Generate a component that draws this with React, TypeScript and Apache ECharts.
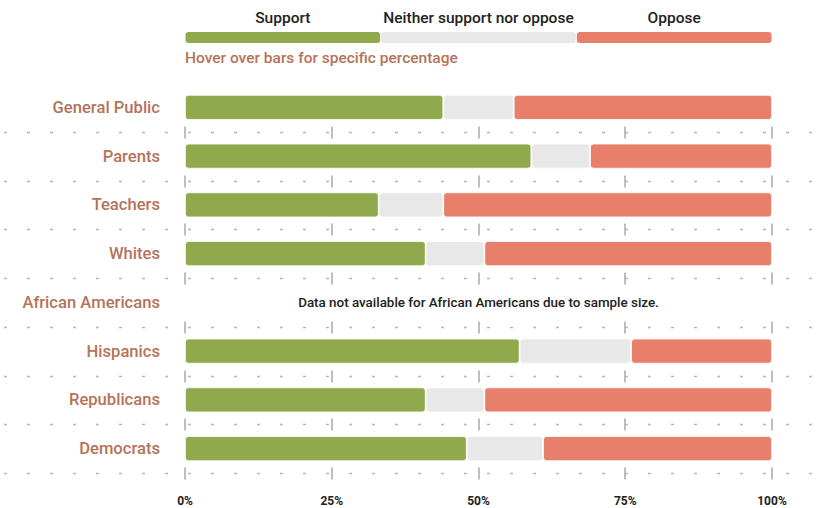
import React, { useEffect, useRef } from "react";
import * as echarts from "echarts";

const categories = [
  "General Public",
  "Parents",
  "Teachers",
  "Whites",
  "African Americans",
  "Hispanics",
  "Republicans",
  "Democrats",
];
const support: (number | null)[] = [44, 59, 33, 41, null, 57, 41, 48];
const neither: (number | null)[] = [12, 10, 11, 10, null, 19, 10, 13];
const oppose: (number | null)[] = [44, 31, 56, 49, null, 24, 49, 39];
const xTicks = [0, 25, 50, 75, 100];
const legendNames = ["Support", "Neither support nor oppose", "Oppose"];
const colors = ["#8fa94c", "#e8e8e8", "#e77f6a"];
const noteCategory = "African Americans";
const noteText = "Data not available for African Americans due to sample size.";
const hoverText = "Hover over bars for specific percentage";

const BROWN = "#b5735a";
const FONT = "Roboto";

export default function App() {
  const ref = useRef<HTMLDivElement>(null);
  useEffect(() => {
    if (!ref.current) return;
    const chart = echarts.init(ref.current, null, { renderer: "svg" });
    const W = 825;
    const plotLeft = 185;
    const plotRight = 772;
    const segW = (plotRight - plotLeft) / 3;

    const legendGraphics: any[] = [];
    legendNames.forEach((name, i) => {
      legendGraphics.push({
        type: "rect",
        shape: { x: plotLeft + i * segW + 0.5, y: 32, width: segW - 1, height: 11, r: 3 },
        style: { fill: colors[i] },
      });
      legendGraphics.push({
        type: "text",
        style: {
          text: name,
          x: plotLeft + i * segW + segW / 2,
          y: 18,
          align: "center",
          verticalAlign: "middle",
          fill: "#222",
          font: `500 15.5px ${FONT}`,
        },
      });
    });
    legendGraphics.push({
      type: "text",
      style: {
        text: hoverText,
        x: plotLeft,
        y: 58,
        align: "left",
        verticalAlign: "middle",
        fill: BROWN,
        font: `500 15.5px ${FONT}`,
      },
    });

    const barSeries = [support, neither, oppose].map((arr, i) => ({
      name: legendNames[i],
      type: "bar",
      stack: "total",
      barWidth: 25,
      data: arr.map((v) => (v == null ? "-" : v)),
      itemStyle: {
        color: colors[i],
        borderRadius: 3,
        borderColor: "#fff",
        borderWidth: 0.8,
      },
      z: 3,
    }));

    const gridData = categories.map((c) => [0, c]);

    const option: any = {
      animation: false,
      backgroundColor: "#fff",
      textStyle: { fontFamily: FONT },
      grid: { left: plotLeft, right: W - plotRight, top: 83, bottom: 35, containLabel: false },
      xAxis: {
        type: "value",
        min: 0,
        max: 100,
        interval: 25,
        axisLine: { show: false },
        axisTick: { show: false },
        splitLine: { show: false },
        axisLabel: {
          formatter: "{value}%",
          color: "#222",
          fontSize: 12,
          fontWeight: "bold",
          fontFamily: FONT,
          margin: 22,
        },
      },
      yAxis: {
        type: "category",
        data: categories,
        inverse: true,
        axisLine: { show: false },
        axisTick: { show: false },
        splitLine: { show: false },
        axisLabel: {
          color: BROWN,
          fontSize: 16.6,
          fontWeight: 500,
          fontFamily: FONT,
          margin: 25,
        },
      },
      graphic: legendGraphics,
      series: [
        {
          type: "custom",
          silent: true,
          z: 1,
          clip: false,
          data: gridData,
          renderItem: (params: any, api: any) => {
            const idx = api.value(1);
            const band = api.size([0, 1])[1];
            const y = Math.round(api.coord([0, idx])[1] + band / 2) + 0.5;
            const width = api.getWidth();
            const children: any[] = [
              {
                type: "line",
                shape: { x1: 0, y1: y, x2: width, y2: y },
                style: { stroke: "#b5b5b5", lineWidth: 1.5, lineDash: [3, 20], lineDashOffset: 19 },
              },
            ];
            xTicks.forEach((t) => {
              const x = Math.round(api.coord([t, idx])[0]);
              children.push({
                type: "line",
                shape: { x1: x, y1: y - 6, x2: x, y2: y + 6 },
                style: { stroke: "#a8a8a8", lineWidth: 1.5 },
              });
            });
            return { type: "group", children };
          },
        },
        ...barSeries,
        {
          type: "custom",
          silent: true,
          z: 4,
          clip: false,
          data: [[50, noteCategory]],
          renderItem: (params: any, api: any) => {
            const p = api.coord([api.value(0), api.value(1)]);
            return {
              type: "text",
              style: {
                text: noteText,
                x: p[0],
                y: p[1],
                align: "center",
                verticalAlign: "middle",
                fill: "#222",
                font: `500 13.4px ${FONT}`,
              },
            };
          },
        },
      ],
    };
    chart.setOption(option);
    return () => chart.dispose();
  }, []);
  return <div ref={ref} style={{ width: 825, height: 508, position: "absolute", left: 0, top: 0 }} />;
}
